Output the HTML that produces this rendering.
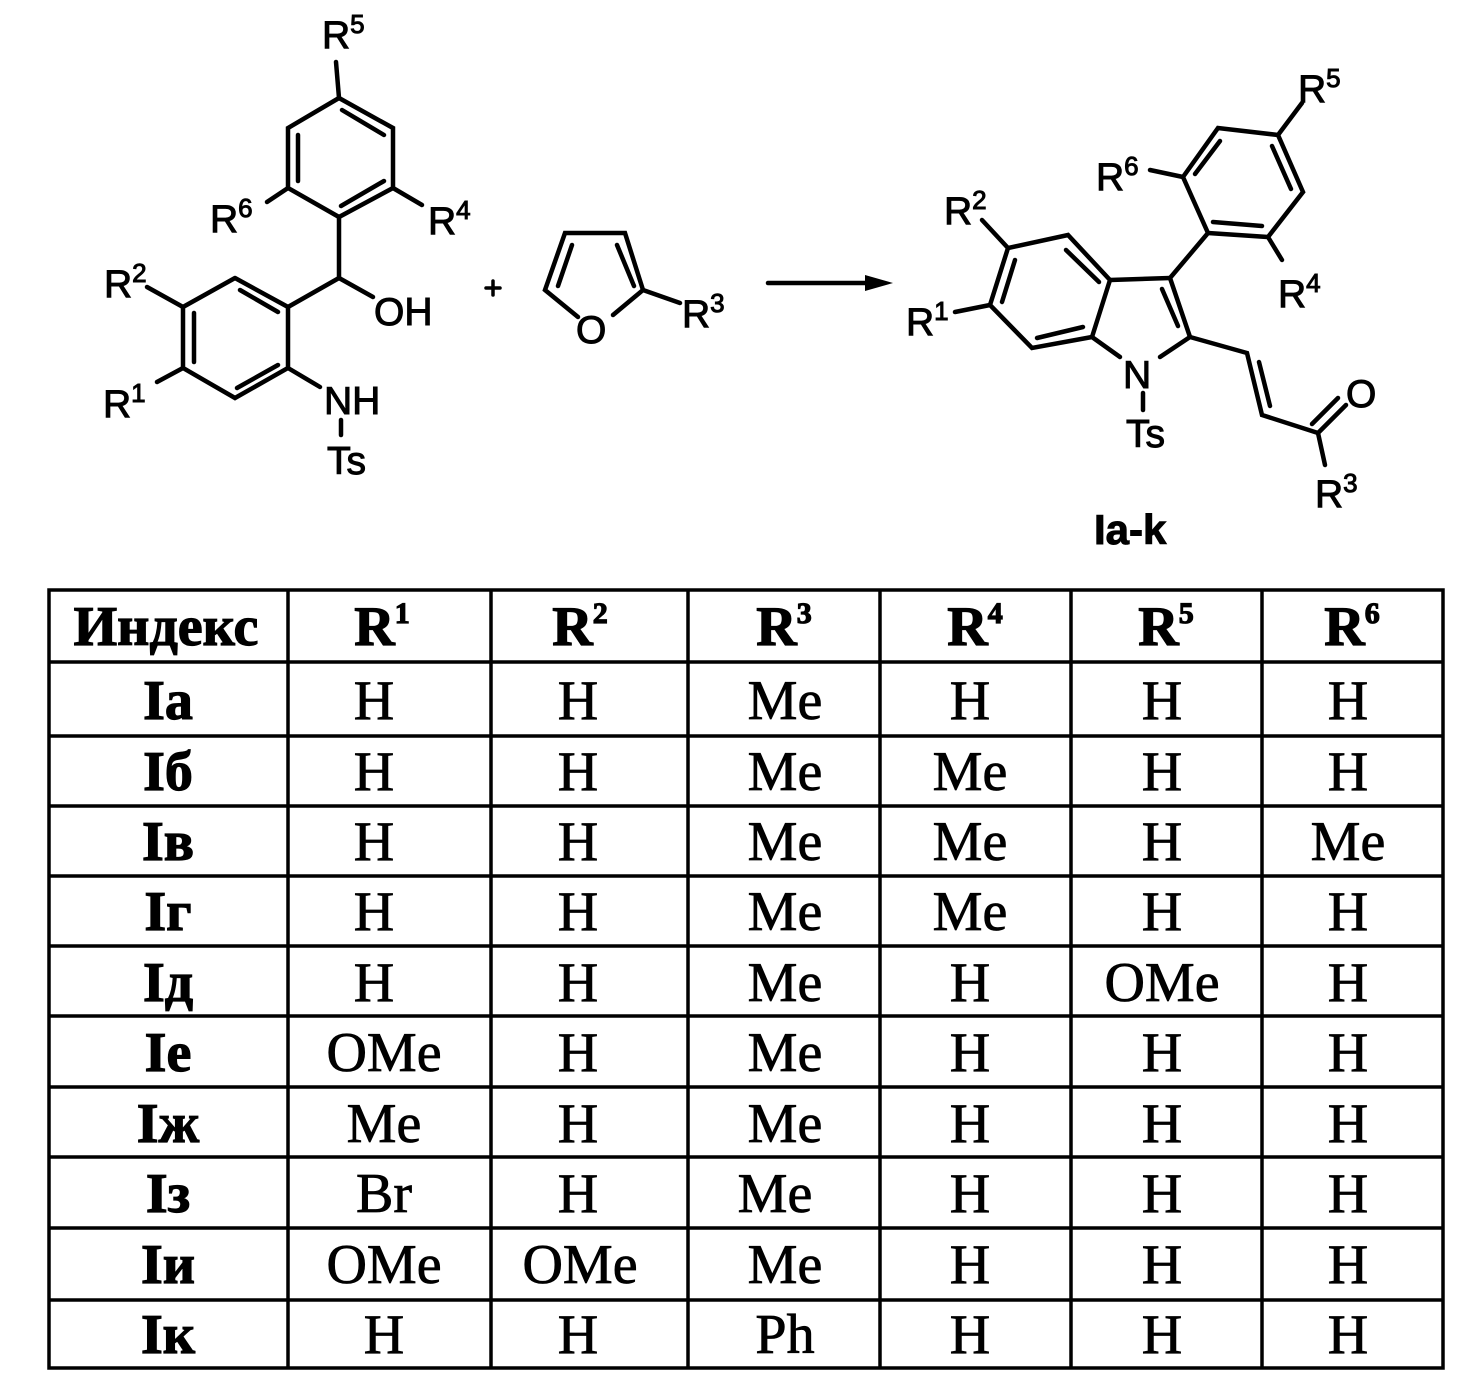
<!DOCTYPE html>
<html><head><meta charset="utf-8"><style>
html,body{margin:0;padding:0;background:#fff;}
svg{display:block}
.c{font-family:"Liberation Sans",sans-serif;font-size:39px;fill:#000;stroke:#000;stroke-width:1}
.s{font-size:26px}
.t{font-family:"Liberation Serif",serif;font-size:56px;fill:#000;text-anchor:middle;stroke:#000;stroke-width:0.8}
.b{font-weight:bold;stroke-width:1.2}
</style></head><body>
<svg width="1475" height="1386" viewBox="0 0 1475 1386" xmlns="http://www.w3.org/2000/svg">
<g stroke="#000" stroke-width="4.5" fill="none" stroke-linecap="round">
<polyline points="339,98 393,128 393,188 339,217 288,188 288,128 339,98"/>
<line x1="298" y1="135" x2="298" y2="181"/>
<line x1="342" y1="110" x2="384" y2="135"/>
<line x1="341" y1="206" x2="384" y2="181"/>
<line x1="339" y1="98" x2="336" y2="62"/>
<line x1="288" y1="188" x2="267" y2="202"/>
<line x1="393" y1="188" x2="422" y2="205"/>
<line x1="339" y1="217" x2="339" y2="278"/>
<line x1="339" y1="278" x2="373" y2="297"/>
<line x1="339" y1="278" x2="288" y2="307"/>
<polyline points="235,278 288,307 288,368 235,398 183,368 183,307 235,278"/>
<line x1="240" y1="290" x2="278" y2="312"/>
<line x1="194" y1="313" x2="194" y2="362"/>
<line x1="237" y1="388" x2="278" y2="365"/>
<line x1="183" y1="307" x2="147" y2="287"/>
<line x1="183" y1="368" x2="157" y2="382"/>
<line x1="288" y1="368" x2="320" y2="387"/>
<line x1="341" y1="420" x2="341" y2="435"/>
<line x1="486" y1="288" x2="500" y2="288" stroke-width="3.5"/>
<line x1="493" y1="281" x2="493" y2="295" stroke-width="3.5"/>
<polyline points="578,317 545,290 565,233 625,233 643,290 613,315"/>
<line x1="558" y1="286" x2="572" y2="245"/>
<line x1="634" y1="286" x2="617" y2="245"/>
<line x1="643" y1="290" x2="680" y2="303"/>
<line x1="768" y1="283" x2="870" y2="283"/>
</g>
<polygon points="865,275 893,283 865,291" fill="#000"/>
<g stroke="#000" stroke-width="4.5" fill="none" stroke-linecap="round">
<polyline points="1208,233 1268,237 1303,192 1278,135 1218,128 1183,177 1208,233"/>
<line x1="1213" y1="222" x2="1262" y2="226"/>
<line x1="1291" y1="189" x2="1272" y2="146"/>
<line x1="1195" y1="174" x2="1220" y2="141"/>
<line x1="1278" y1="135" x2="1302" y2="103"/>
<line x1="1183" y1="177" x2="1150" y2="170"/>
<line x1="1268" y1="237" x2="1282" y2="260"/>
<line x1="1170" y1="278" x2="1208" y2="233"/>
<line x1="1170" y1="278" x2="1110" y2="280"/>
<line x1="1110" y1="280" x2="1092" y2="337"/>
<line x1="1092" y1="337" x2="1120" y2="357"/>
<line x1="1160" y1="357" x2="1190" y2="337"/>
<line x1="1190" y1="337" x2="1170" y2="278"/>
<line x1="1178" y1="326" x2="1162" y2="289"/>
<polyline points="1110,280 1068,235 1008,248 990,305 1032,348 1092,337"/>
<line x1="1066" y1="250" x2="1099" y2="282"/>
<line x1="1015" y1="260" x2="1002" y2="302"/>
<line x1="1037" y1="338" x2="1083" y2="327"/>
<line x1="1008" y1="248" x2="982" y2="220"/>
<line x1="990" y1="305" x2="955" y2="312"/>
<line x1="1143" y1="393" x2="1143" y2="410"/>
<polyline points="1190,337 1247,353 1262,415 1318,433"/>
<line x1="1259" y1="362" x2="1270" y2="406"/>
<line x1="1318" y1="433" x2="1346" y2="405"/>
<line x1="1312" y1="424" x2="1338" y2="398"/>
<line x1="1318" y1="433" x2="1325" y2="465"/>
</g>
<g class="c">
<text x="322" y="48">R<tspan class="s" dy="-15">5</tspan></text>
<text x="210" y="232">R<tspan class="s" dy="-15">6</tspan></text>
<text x="428" y="234">R<tspan class="s" dy="-15">4</tspan></text>
<text x="104" y="297">R<tspan class="s" dy="-15">2</tspan></text>
<text x="103" y="417">R<tspan class="s" dy="-15">1</tspan></text>
<text x="374" y="325">OH</text>
<text x="324" y="414">NH</text>
<text x="327" y="474">Ts</text>
<text x="576" y="343">O</text>
<text x="682" y="327">R<tspan class="s" dy="-15">3</tspan></text>
<text x="1298" y="102">R<tspan class="s" dy="-15">5</tspan></text>
<text x="1096" y="190">R<tspan class="s" dy="-15">6</tspan></text>
<text x="1278" y="307">R<tspan class="s" dy="-15">4</tspan></text>
<text x="944" y="224">R<tspan class="s" dy="-15">2</tspan></text>
<text x="906" y="335">R<tspan class="s" dy="-15">1</tspan></text>
<text x="1123" y="388">N</text>
<text x="1126" y="447">Ts</text>
<text x="1346" y="407">O</text>
<text x="1315" y="507">R<tspan class="s" dy="-15">3</tspan></text>
<text x="1094" y="544" font-weight="bold" font-size="42">Ia-k</text>
</g>
<g stroke="#000" stroke-width="3.5">
<rect x="49" y="590" width="1394" height="778" fill="none"/>
<line x1="288" y1="590" x2="288" y2="1368"/>
<line x1="491" y1="590" x2="491" y2="1368"/>
<line x1="688" y1="590" x2="688" y2="1368"/>
<line x1="880" y1="590" x2="880" y2="1368"/>
<line x1="1071" y1="590" x2="1071" y2="1368"/>
<line x1="1262" y1="590" x2="1262" y2="1368"/>
<line x1="49" y1="662" x2="1443" y2="662"/>
<line x1="49" y1="736" x2="1443" y2="736"/>
<line x1="49" y1="806" x2="1443" y2="806"/>
<line x1="49" y1="876" x2="1443" y2="876"/>
<line x1="49" y1="946" x2="1443" y2="946"/>
<line x1="49" y1="1016" x2="1443" y2="1016"/>
<line x1="49" y1="1087" x2="1443" y2="1087"/>
<line x1="49" y1="1157" x2="1443" y2="1157"/>
<line x1="49" y1="1228" x2="1443" y2="1228"/>
<line x1="49" y1="1300" x2="1443" y2="1300"/>
</g>
<g class="t b">
<text x="166" y="645" font-size="56">Индекс</text>
<text x="382" y="645" font-size="56">R<tspan font-size="30" dy="-22">1</tspan></text>
<text x="580" y="645" font-size="56">R<tspan font-size="30" dy="-22">2</tspan></text>
<text x="784" y="645" font-size="56">R<tspan font-size="30" dy="-22">3</tspan></text>
<text x="975" y="645" font-size="56">R<tspan font-size="30" dy="-22">4</tspan></text>
<text x="1166" y="645" font-size="56">R<tspan font-size="30" dy="-22">5</tspan></text>
<text x="1352" y="645" font-size="56">R<tspan font-size="30" dy="-22">6</tspan></text>
</g>
<g class="t b">
<text x="168" y="719">Ia</text>
<text x="168" y="790">Iб</text>
<text x="168" y="860">Iв</text>
<text x="168" y="930">Iг</text>
<text x="168" y="1001">Iд</text>
<text x="168" y="1071">Ie</text>
<text x="168" y="1142">Iж</text>
<text x="168" y="1212">Iз</text>
<text x="168" y="1283">Iи</text>
<text x="168" y="1353">Iк</text>
</g>
<g class="t">
<text x="374" y="719">H</text><text x="578" y="719">H</text><text x="785" y="719">Me</text><text x="970" y="719">H</text><text x="1162" y="719">H</text><text x="1348" y="719">H</text>
<text x="374" y="790">H</text><text x="578" y="790">H</text><text x="785" y="790">Me</text><text x="970" y="790">Me</text><text x="1162" y="790">H</text><text x="1348" y="790">H</text>
<text x="374" y="860">H</text><text x="578" y="860">H</text><text x="785" y="860">Me</text><text x="970" y="860">Me</text><text x="1162" y="860">H</text><text x="1348" y="860">Me</text>
<text x="374" y="930">H</text><text x="578" y="930">H</text><text x="785" y="930">Me</text><text x="970" y="930">Me</text><text x="1162" y="930">H</text><text x="1348" y="930">H</text>
<text x="374" y="1001">H</text><text x="578" y="1001">H</text><text x="785" y="1001">Me</text><text x="970" y="1001">H</text><text x="1162" y="1001">OMe</text><text x="1348" y="1001">H</text>
<text x="384" y="1071">OMe</text><text x="578" y="1071">H</text><text x="785" y="1071">Me</text><text x="970" y="1071">H</text><text x="1162" y="1071">H</text><text x="1348" y="1071">H</text>
<text x="384" y="1142">Me</text><text x="578" y="1142">H</text><text x="785" y="1142">Me</text><text x="970" y="1142">H</text><text x="1162" y="1142">H</text><text x="1348" y="1142">H</text>
<text x="384" y="1212">Br</text><text x="578" y="1212">H</text><text x="775" y="1212">Me</text><text x="970" y="1212">H</text><text x="1162" y="1212">H</text><text x="1348" y="1212">H</text>
<text x="384" y="1283">OMe</text><text x="580" y="1283">OMe</text><text x="785" y="1283">Me</text><text x="970" y="1283">H</text><text x="1162" y="1283">H</text><text x="1348" y="1283">H</text>
<text x="384" y="1353">H</text><text x="578" y="1353">H</text><text x="785" y="1353">Ph</text><text x="970" y="1353">H</text><text x="1162" y="1353">H</text><text x="1348" y="1353">H</text>
</g>
</svg>
</body></html>
